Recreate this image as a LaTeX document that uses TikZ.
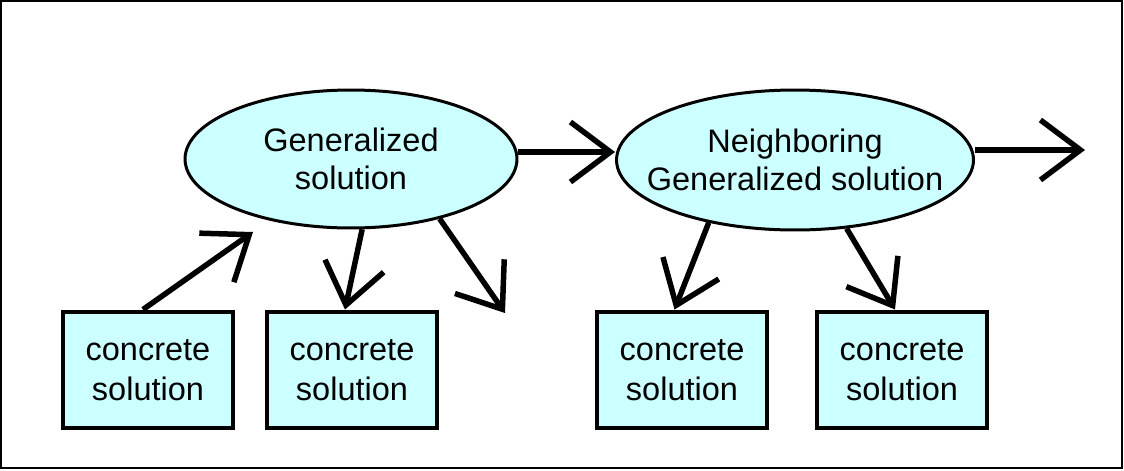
\documentclass[tikz,border=0pt]{standalone}
\usepackage{fontspec}
\setmainfont{Liberation Sans}
\usetikzlibrary{shapes.geometric,arrows.meta}
\definecolor{paleblue}{HTML}{CCFFFF}
\begin{document}
\begin{tikzpicture}[x=0.02cm, y=-0.02cm,
          font=\fontsize{18.5}{22.5}\selectfont,
          gen/.style={draw, ellipse, fill=paleblue, line width=0.06cm, inner sep=0pt},
          lbl/.style={align=center, font=\fontsize{18.5}{21.5}\selectfont},
          box/.style={draw, fill=paleblue, line width=0.08cm, minimum width=3.4cm, minimum height=2.34cm, align=center, inner sep=0pt},
          arr/.style={-{Straight Barb[length=0.8cm, width=1.2cm]}, line width=0.11cm}]
        \useasboundingbox (0,0) rectangle (1124,470);
        \draw[line width=0.04cm] (1,1) rectangle (1122,468);
        \node[gen, minimum width=6.64cm, minimum height=2.76cm,
              label={[lbl]center:Generalized\\solution}] (g1) at (351,159) {};
        \node[gen, minimum width=7.14cm, minimum height=2.8cm,
              label={[lbl]center:Neighboring\\Generalized solution}] (n1) at (795,160) {};
        \foreach \nm/\px in {c1/148, c2/352, c3/682, c4/902} {
          \node[box] (\nm) at (\px,370) {concrete\\solution};
        }
        \coordinate (p1) at (253,232);
        \coordinate (p2) at (505,313);
        \coordinate (p3) at (1085,150);
        \draw[arr] ([xshift=-0.1cm]c1.north) -- (p1);
        \draw[arr] (g1.-81) -- ([xshift=-0.14cm]c2.north);
        \draw[arr] (g1.-34) -- (p2);
        \draw[arr] (g1.east |- 0,152) -- (n1.west |- 0,152);
        \draw[arr] (n1.east |- p3) -- (p3);
        \draw[arr] (n1.-144) -- ([xshift=-0.15cm]c3.north);
        \draw[arr] (n1.-53) -- ([xshift=-0.14cm]c4.north);
      \end{tikzpicture}
\end{document}
